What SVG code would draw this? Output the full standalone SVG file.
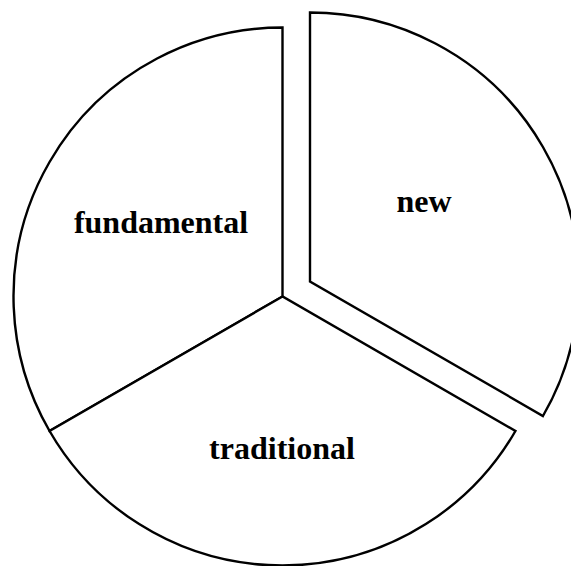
<svg xmlns="http://www.w3.org/2000/svg" width="571" height="566" viewBox="0 0 571 566">
  <style>
    .slice { fill: #ffffff; stroke: #000000; stroke-width: 2.4; stroke-linejoin: miter; }
    .label { font-family: "Liberation Serif", "Times New Roman", serif; font-weight: bold; font-size: 32px; fill: #000000; text-anchor: middle; }
  </style>
  <rect width="571" height="566" fill="#ffffff"/>
  <!-- centre (282.5, 296.5), radius 269; slices split at 90°, 210°, 330° -->
  <g id="fundamental">
    <path class="slice" d="M282.5,296.5 L282.5,27.5 A269,269 0 0 0 49.55,431 Z"/>
    <text class="label" x="161" y="233">fundamental</text>
  </g>
  <g id="traditional">
    <path class="slice" d="M282.5,296.5 L49.55,431 A269,269 0 0 0 515.45,431 Z"/>
    <text class="label" x="282" y="459">traditional</text>
  </g>
  <!-- exploded slice, shifted outward along its bisector -->
  <g id="new">
    <path class="slice" d="M310,281.5 L310,12.5 A269,269 0 0 1 542.95,416 Z"/>
    <text class="label" x="424" y="212">new</text>
  </g>
  <g id="connectors"></g>
</svg>
